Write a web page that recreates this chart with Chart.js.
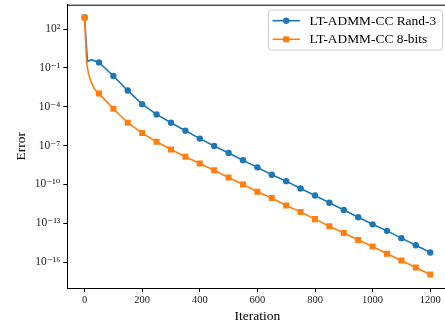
<!DOCTYPE html>
<html>
<head>
<meta charset="utf-8">
<script src="https://cdn.jsdelivr.net/npm/chart.js@4.4.0/dist/chart.umd.min.js"></script>
<style>
  html, body { margin: 0; padding: 0; background: #fff; overflow: hidden; }
  #wrap { width: 445px; height: 327px; overflow: hidden; position: relative; }
  canvas { display: block; }
</style>
</head>
<body>
<div id="wrap"><canvas id="c" width="460" height="327"></canvas></div>
<script>
// ---- data ----
const randIters = [0, 10, 24, 50, 100, 150, 200, 250, 300, 350, 400, 450, 500, 550, 600, 650, 700, 750, 800, 850, 900, 950, 1000, 1050, 1100, 1150, 1200];
const randErr = [8.0e2, 3.2e-1, 4.4e-1, 2.7e-1, 2.4e-2, 1.8e-3, 1.6e-4, 2.6e-5, 5.9e-6, 1.4e-6, 3.5e-7, 9.3e-8, 2.7e-8, 7.4e-9, 2.1e-9, 5.6e-10, 1.8e-10, 4.9e-11, 1.4e-11, 3.9e-12, 1.05e-12, 2.9e-13, 8.3e-14, 2.6e-14, 7.1e-15, 2.0e-15, 5.5e-16];
const bitsIters = [0, 7, 14, 22, 34, 50, 100, 150, 200, 250, 300, 350, 400, 450, 500, 550, 600, 650, 700, 750, 800, 850, 900, 950, 1000, 1050, 1100, 1150, 1200];
const bitsErr = [8.0e2, 2.5e-1, 3.2e-2, 9.3e-3, 2.4e-3, 1.05e-3, 7.1e-5, 5.9e-6, 9.3e-7, 2.0e-7, 5.0e-8, 1.4e-8, 4.2e-9, 1.26e-9, 3.5e-10, 1.0e-10, 2.7e-11, 8.9e-12, 2.4e-12, 7.4e-13, 2.1e-13, 5.9e-14, 1.8e-14, 5.2e-15, 1.6e-15, 4.4e-16, 1.35e-16, 3.8e-17, 1.1e-17];
const seriesNames = ['LT-ADMM-CC Rand-3', 'LT-ADMM-CC 8-bits'];
const xTicks = [0, 200, 400, 600, 800, 1000, 1200];
const yTickExps = [2, -1, -4, -7, -10, -13, -16];
const markEvery = 50;

const BLUE = '#1f77b4', ORANGE = '#ff7f0e';
const SERIF = '"Liberation Serif", "DejaVu Serif", serif';

const supMap = {'-': '\u207B', '0': '\u2070', '1': '\u00B9', '2': '\u00B2', '3': '\u00B3', '4': '\u2074', '5': '\u2075', '6': '\u2076', '7': '\u2077', '8': '\u2078', '9': '\u2079'};
function supStr(n) { return String(n).split('').map(ch => supMap[ch]).join(''); }

function toPts(xs, ys) { return xs.map((x, i) => ({x: x, y: ys[i]})); }
function markerRadius(r) { return ctx => (ctx.raw && ctx.raw.x % markEvery === 0) ? r : 0; }

const framePlugin = {
  id: 'frame',
  afterDraw(chart) {
    const {ctx, chartArea: a} = chart;
    ctx.save();
    ctx.strokeStyle = '#000';
    ctx.lineWidth = 1;
    ctx.beginPath();
    ctx.moveTo(a.left, a.top + 0.5);
    ctx.lineTo(a.right, a.top + 0.5);
    ctx.stroke();
    ctx.fillStyle = '#000';
    ctx.font = '13.5px ' + SERIF;
    ctx.textAlign = 'center';
    ctx.textBaseline = 'middle';
    ctx.fillText('Iteration', (a.left + a.right) / 2, 316);
    ctx.save();
    ctx.translate(21.5, (a.top + a.bottom) / 2);
    ctx.rotate(-Math.PI / 2);
    ctx.fillText('Error', 0, 0);
    ctx.restore();
    const lx = 268.5, ly = 10, lw = 174, lh = 40, r = 3;
    ctx.beginPath();
    ctx.moveTo(lx + r, ly);
    ctx.arcTo(lx + lw, ly, lx + lw, ly + lh, r);
    ctx.arcTo(lx + lw, ly + lh, lx, ly + lh, r);
    ctx.arcTo(lx, ly + lh, lx, ly, r);
    ctx.arcTo(lx, ly, lx + lw, ly, r);
    ctx.closePath();
    ctx.fillStyle = 'rgba(255,255,255,0.8)';
    ctx.fill();
    ctx.strokeStyle = '#cccccc';
    ctx.lineWidth = 1;
    ctx.stroke();
    const rows = [
      {y: 20.7, color: BLUE, shape: 'circle', label: seriesNames[0]},
      {y: 39.3, color: ORANGE, shape: 'square', label: seriesNames[1]}
    ];
    rows.forEach(row => {
      ctx.strokeStyle = row.color;
      ctx.lineWidth = 1.6;
      ctx.beginPath();
      ctx.moveTo(272.5, row.y);
      ctx.lineTo(300, row.y);
      ctx.stroke();
      ctx.fillStyle = row.color;
      ctx.beginPath();
      if (row.shape === 'circle') ctx.arc(286.2, row.y, 3.2, 0, Math.PI * 2);
      else ctx.rect(286.2 - 3, row.y - 3, 6, 6);
      ctx.fill();
      ctx.fillStyle = '#000';
      ctx.font = '13.4px ' + SERIF;
      ctx.textAlign = 'left';
      ctx.textBaseline = 'middle';
      ctx.fillText(row.label, 309.5, row.y + 0.5);
    });
    ctx.restore();
  }
};

new Chart(document.getElementById('c'), {
  type: 'line',
  data: {
    datasets: [
      {
        label: seriesNames[0],
        data: toPts(randIters, randErr),
        borderColor: BLUE,
        backgroundColor: BLUE,
        borderWidth: 1.6,
        pointStyle: 'circle',
        pointRadius: markerRadius(3.2),
        pointBorderWidth: 0,
        pointBackgroundColor: BLUE,
        tension: 0,
        order: 1
      },
      {
        label: seriesNames[1],
        data: toPts(bitsIters, bitsErr),
        borderColor: ORANGE,
        backgroundColor: ORANGE,
        borderWidth: 1.6,
        pointStyle: 'rect',
        pointRadius: markerRadius(4.25),
        pointBorderWidth: 0,
        pointBackgroundColor: ORANGE,
        tension: 0,
        order: 0
      }
    ]
  },
  options: {
    responsive: false,
    animation: false,
    layout: { padding: { left: 0, right: 12.5, top: 4.7, bottom: 0 } },
    plugins: { legend: { display: false }, tooltip: { enabled: false } },
    scales: {
      x: {
        type: 'linear',
        min: -60,
        max: 1260,
        afterBuildTicks: s => { s.ticks = xTicks.map(v => ({value: v})); },
        afterFit: s => { s.height = 39; s.paddingLeft = 0; s.paddingRight = 0; },
        grid: { drawOnChartArea: false, drawTicks: true, tickLength: 4, color: '#000', tickWidth: 1 },
        border: { display: true, color: '#000', width: 1 },
        ticks: { color: '#222', padding: 2, maxRotation: 0, autoSkip: false, font: { family: SERIF, size: 10.5 },
          callback: v => String(v) }
      },
      y: {
        type: 'logarithmic',
        min: 1e-18,
        max: 7762,
        afterBuildTicks: s => { s.ticks = yTickExps.map(e => ({value: Math.pow(10, e)})); },
        afterFit: s => { s.width = 67.3; s.paddingTop = 0; s.paddingBottom = 0; },
        grid: { drawOnChartArea: false, drawTicks: true, tickLength: 4, color: '#000', tickWidth: 1 },
        border: { display: true, color: '#000', width: 1 },
        ticks: {
          color: '#222', padding: 3, autoSkip: false,
          font: { family: SERIF, size: 11.5 },
          callback: v => '10' + supStr(Math.round(Math.log10(v)))
        }
      }
    }
  },
  plugins: [framePlugin]
});
</script>
</body>
</html>
